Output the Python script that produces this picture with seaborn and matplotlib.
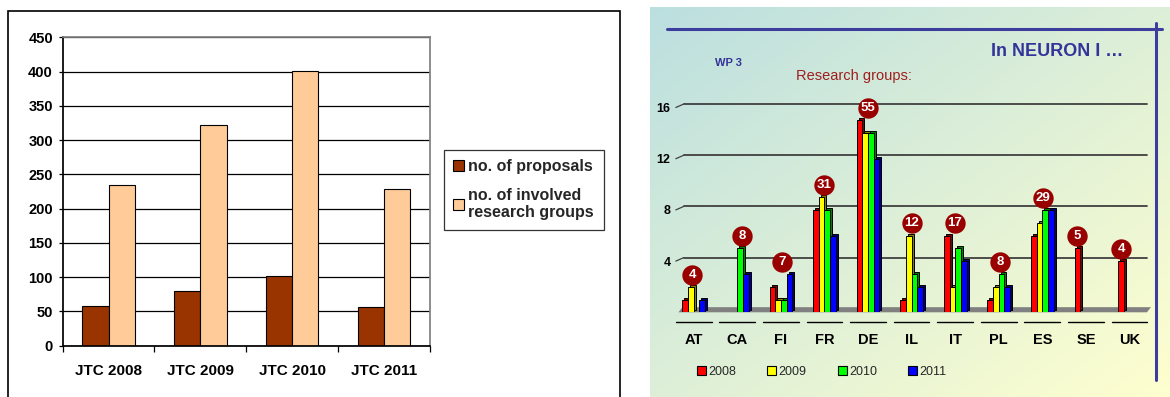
import numpy as np
import pandas as pd
import seaborn as sns
import matplotlib.pyplot as plt
from matplotlib.lines import Line2D
from matplotlib.patches import Rectangle, Polygon, Patch
from matplotlib.transforms import ScaledTranslation

# left chart: JTC calls
calls = ["JTC 2008", "JTC 2009", "JTC 2010", "JTC 2011"]
proposals = [58, 80, 102, 56]
involved_groups = [234, 322, 401, 228]
left_series = ["no. of proposals", "no. of involved\nresearch groups"]
left_colors = ["#993300", "#FFCC99"]

# right chart: research groups per country and year
countries = ["AT", "CA", "FI", "FR", "DE", "IL", "IT", "PL", "ES", "SE", "UK"]
years = ["2008", "2009", "2010", "2011"]
rg_2008 = [1, 0, 2, 8, 15, 1, 6, 1, 6, 5, 4]
rg_2009 = [2, 0, 1, 9, 14, 6, 2, 2, 7, 0, 0]
rg_2010 = [0, 5, 1, 8, 14, 3, 5, 3, 8, 0, 0]
rg_2011 = [1, 3, 3, 6, 12, 2, 4, 2, 8, 0, 0]
totals = [4, 8, 7, 31, 55, 12, 17, 8, 29, 5, 4]
year_colors = ["#FF0000", "#FFFF00", "#00FF00", "#0000FF"]

sns.set_theme(style="white")
plt.rcParams["font.family"] = ["Liberation Sans", "DejaVu Sans"]

W, H = 1170, 397
fig = plt.figure(figsize=(W / 100, H / 100), dpi=100)


def fx(px):
    return px / W


def fy(py):
    return 1 - py / H


# ---------------- left panel ----------------
fig.add_artist(Rectangle((fx(7.5), -0.05), fx(620) - fx(7.5), fy(10.7) + 0.05,
                         fill=False, edgecolor="black", lw=1.2, transform=fig.transFigure))

ax1 = fig.add_axes([fx(62.7), fy(345.7), fx(429.8) - fx(62.7), fy(37.3) - fy(345.7)])
df1 = pd.DataFrame({
    "call": calls * 2,
    "series": [left_series[0]] * len(calls) + [left_series[1]] * len(calls),
    "value": proposals + involved_groups,
})
sns.barplot(data=df1, x="call", y="value", hue="series", palette=left_colors,
            width=0.57, saturation=1, edgecolor="black", linewidth=0.8, ax=ax1)
ax1.set_ylim(0, 450)
ax1.set_yticks(range(0, 451, 50))
ax1.yaxis.grid(True, color="black", lw=0.9)
ax1.set_axisbelow(True)
ax1.set_xlabel("")
ax1.set_ylabel("")
for s in ["top", "right"]:
    ax1.spines[s].set_color("#808080")
for s in ["left", "bottom"]:
    ax1.spines[s].set_color("black")
ax1.set_xticks(np.arange(len(calls) + 1) - 0.5, minor=True)
ax1.tick_params(axis="x", which="major", length=0, pad=13, labelsize=11)
ax1.tick_params(axis="x", which="minor", length=4, width=0.9, direction="out", color="black", bottom=True)
ax1.tick_params(axis="y", length=3, width=0.9, direction="out", color="black", left=True, pad=4, labelsize=10.5)
plt.setp(ax1.get_xticklabels() + ax1.get_yticklabels(), weight="bold", color="black")

handles1 = [Patch(facecolor=c, edgecolor="black", lw=0.8) for c in left_colors]
ax1.legend(handles1, left_series, loc="upper left", bbox_to_anchor=(fx(443.7), fy(149.7)),
           bbox_transform=fig.transFigure, frameon=True, fancybox=False, edgecolor="black",
           handlelength=0.65, handleheight=0.65, handletextpad=0.3, labelspacing=0.85,
           borderpad=0.6, borderaxespad=0, prop={"weight": "bold", "size": 11.5})
ax1.get_legend().get_frame().set_linewidth(0.9)

# ---------------- right panel ----------------
bg = fig.add_axes([fx(650), 0, 1 - fx(650), fy(6.7)])
u = np.linspace(0, 1, 260)
v = np.linspace(0, 1, 200)
t = (u[None, :] + v[:, None]) / 2
c_tl = np.array([0xBB, 0xDF, 0xE0]) / 255
c_br = np.array([0xFF, 0xFF, 0xCF]) / 255
bg.imshow(c_tl + (c_br - c_tl) * t[..., None], aspect="auto", extent=[0, 1, 0, 1])
bg.axis("off")
bg.set_zorder(0)

y_top = 17
ax2 = fig.add_axes([fx(671.9), fy(312.3), fx(1151.3) - fx(671.9), fy(312.3 - y_top * 12.8) - fy(312.3)])
ax2.set_zorder(1)
ax2.set_facecolor("none")

df2 = pd.DataFrame({
    "country": countries * len(years),
    "year": np.repeat(years, len(countries)),
    "groups": rg_2008 + rg_2009 + rg_2010 + rg_2011,
})
sns.barplot(data=df2, x="country", y="groups", hue="year", palette=year_colors,
            width=0.52, saturation=1, edgecolor="black", linewidth=0.7, legend=False, ax=ax2)

# fake 3D: darker copy shifted up/right behind each bar
shift = ax2.transData + ScaledTranslation(0.02, 0.02, fig.dpi_scale_trans)
for p in list(ax2.patches):
    if p.get_height() == 0:
        p.set_visible(False)
        continue
    p.set_zorder(3)
    fc = np.array(p.get_facecolor()[:3]) * 0.5
    ax2.add_patch(Rectangle(p.get_xy(), p.get_width(), p.get_height(), facecolor=fc,
                            edgecolor="black", lw=0.7, transform=shift, zorder=2))

ax2.set_xlim(-0.5, len(countries) - 0.5)
ax2.set_ylim(0, y_top)
n = len(countries)
dx, dy = 4 / 43.6, 3.5 / 12.8

# floor
ax2.add_patch(Polygon([(-0.35, 0), (n - 0.6, 0), (n - 0.6 + dx, 0.4), (-0.35 + dx, 0.4)],
                      closed=True, facecolor="#808080", edgecolor="none", zorder=1.5, clip_on=False))

# back wall gridlines
ticks = [4, 8, 12, 16]
for val in ticks:
    ax2.plot([-0.41 + dx * 2, n - 0.6], [val + dy, val + dy], color="#404040", lw=1.3, zorder=1, clip_on=False)
    ax2.plot([-0.41, -0.41 + dx * 2], [val, val + dy], color="#404040", lw=0.9, zorder=1, clip_on=False)

# separators under the category labels
for i in range(n):
    ax2.plot([i - 0.41, i + 0.41], [-0.73, -0.73], color="black", lw=1.0, clip_on=False)

ax2.set_yticks(ticks)
ax2.set_xlabel("")
ax2.set_ylabel("")
ax2.grid(False)
for s in ax2.spines.values():
    s.set_visible(False)
ax2.tick_params(axis="x", length=0, pad=15, labelsize=10.5)
ax2.tick_params(axis="y", length=0, pad=1, labelsize=9)
plt.setp(ax2.get_xticklabels() + ax2.get_yticklabels(), weight="bold", color="black")

# total circles
vals = np.vstack([rg_2008, rg_2009, rg_2010, rg_2011]).astype(float)
offsets = (np.arange(len(years)) - 1.5) * 0.13
cx = np.arange(n) + (vals * offsets[:, None]).sum(axis=0) / vals.sum(axis=0)
cy = vals.max(axis=0) + 0.95
ax2.scatter(cx, cy, s=215, color="#990000", zorder=5, clip_on=False, linewidths=0)
for x, y, tot in zip(cx, cy, totals):
    ax2.text(x, y, str(tot), ha="center", va="center", color="white",
             weight="bold", size=9.5, zorder=6)

handles2 = [Patch(facecolor=c, edgecolor="black", lw=0.8) for c in year_colors]
fig.legend(handles2, years, loc="center left", bbox_to_anchor=(fx(697), fy(371.7)),
           ncol=4, frameon=False, handlelength=0.7, handleheight=0.7, handletextpad=0.2,
           columnspacing=2.5, borderpad=0, borderaxespad=0, prop={"size": 9})

# frame lines and titles
line_c = "#3D3D9E"
fig.add_artist(Line2D([fx(667), fx(1162)], [fy(29), fy(29)], color=line_c, lw=2.2, transform=fig.transFigure))
fig.add_artist(Line2D([fx(1155.5), fx(1155.5)], [fy(22.7), fy(380)], color=line_c, lw=2.2, transform=fig.transFigure))
fig.text(fx(991), fy(52), "In NEURON I \u2026", ha="left", va="center", weight="bold", size=13, color="#333399")
fig.text(fx(728.5), fy(62.7), "WP 3", ha="center", va="center", weight="bold", size=8, color="#333399")
fig.text(fx(796), fy(76), "Research groups:", ha="left", va="center", size=10.5, color="#A01E1E")

fig.savefig("out.png", dpi=100)
